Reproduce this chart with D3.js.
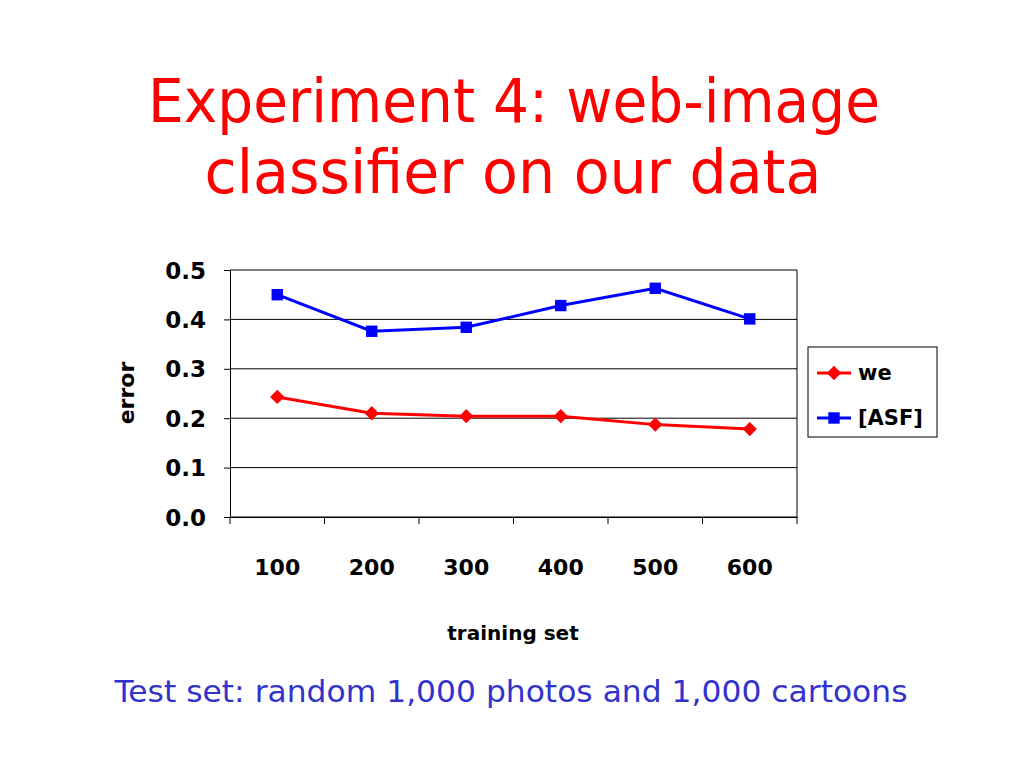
<!DOCTYPE html>
<html><head><meta charset="utf-8">
<script src="https://cdn.jsdelivr.net/npm/d3@7"></script>
<style>body{margin:0;background:#fff}svg{display:block}</style>
</head><body>
<script>
const categories = ["100","200","300","400","500","600"];
const seriesNames = ["we","[ASF]"];
const weValues = [0.243,0.210,0.204,0.204,0.187,0.178];
const asfValues = [0.450,0.376,0.384,0.428,0.463,0.401];
const yTicks = [0,0.1,0.2,0.3,0.4,0.5];
const titleLines = ["Experiment 4: web-image","classifier on our data"];
const subtitle = "Test set: random 1,000 photos and 1,000 cartoons";

const font = "'Comic Sans MS','DejaVu Sans',sans-serif";
const W=1024,H=768;
const svg=d3.select("body").append("svg").attr("width",W).attr("height",H);
const m={l:230,r:797,t:270,b:517};
const x=d3.scaleBand().domain(categories).range([m.l,m.r]);
const y=d3.scaleLinear().domain([0,0.5]).range([m.b,m.t]);

// title
const tl=[{t:titleLines[0],y:122,w:732,c:514},{t:titleLines[1],y:193,w:617,c:513}];
svg.selectAll(".title").data(tl).join("text")
  .attr("x",d=>d.c).attr("y",d=>d.y).attr("text-anchor","middle")
  .attr("font-family",font).attr("font-size",61).attr("fill","#ff0000")
  .attr("textLength",d=>d.w).attr("lengthAdjust","spacingAndGlyphs").text(d=>d.t);

// gridlines
svg.append("g").selectAll("line").data(yTicks).join("line")
  .attr("x1",m.l).attr("x2",m.r).attr("y1",d=>y(d)).attr("y2",d=>y(d))
  .attr("stroke","#000").attr("stroke-width",1);
// right border
svg.append("line").attr("x1",m.r).attr("x2",m.r).attr("y1",m.t).attr("y2",m.b).attr("stroke","#000");

// y axis
const ya=svg.append("g").attr("transform",`translate(${m.l},0)`)
  .call(d3.axisLeft(y).tickValues(yTicks).tickFormat(d3.format(".1f")).tickSize(6).tickPadding(18));
ya.select(".domain").attr("stroke","#000");
ya.selectAll("text").attr("font-family",font).attr("font-size",23).attr("font-weight","bold").attr("fill","#000").attr("dy","0.35em");

// x axis with ticks at band boundaries
const xa=svg.append("g").attr("transform",`translate(0,${m.b})`)
  .call(d3.axisBottom(x).tickSize(0).tickPadding(42));
xa.select(".domain").attr("stroke","#000");
xa.selectAll("text").attr("font-family",font).attr("font-size",22).attr("font-weight","bold").attr("fill","#000");
const bounds=categories.map(c=>x(c)).concat([m.r]);
xa.selectAll(".bt").data(bounds).join("line").attr("class","bt")
  .attr("x1",d=>d).attr("x2",d=>d).attr("y1",0).attr("y2",7).attr("stroke","#000");

// axis titles
svg.append("text").attr("x",513).attr("y",640).attr("text-anchor","middle")
  .attr("font-family",font).attr("font-size",20).attr("font-weight","bold").text("training set");
svg.append("text").attr("transform","translate(134,393) rotate(-90)").attr("text-anchor","middle")
  .attr("font-family",font).attr("font-size",22).attr("font-weight","bold").text("error");

// series
const series=[{name:seriesNames[0],vals:weValues,color:"#ff0000",shape:d3.symbolDiamond2,size:130},
              {name:seriesNames[1],vals:asfValues,color:"#0000ff",shape:d3.symbolSquare,size:130}];
const line=d3.line().x((d,i)=>x(categories[i])+x.bandwidth()/2).y(d=>y(d));
series.forEach(s=>{
  svg.append("path").attr("d",line(s.vals)).attr("fill","none").attr("stroke",s.color).attr("stroke-width",3);
  svg.append("g").selectAll("path").data(s.vals).join("path")
    .attr("transform",(d,i)=>`translate(${x(categories[i])+x.bandwidth()/2},${y(d)})`)
    .attr("d",d3.symbol().type(s.shape).size(s.size)).attr("fill",s.color);
});

// legend
const lg=svg.append("g");
lg.append("rect").attr("x",808).attr("y",347).attr("width",129).attr("height",90).attr("fill","#fff").attr("stroke","#000");
series.forEach((s,i)=>{
  const yy=373+i*45;
  lg.append("line").attr("x1",817).attr("x2",851).attr("y1",yy).attr("y2",yy).attr("stroke",s.color).attr("stroke-width",3);
  lg.append("path").attr("transform",`translate(834,${yy})`).attr("d",d3.symbol().type(s.shape).size(s.size)).attr("fill",s.color);
  lg.append("text").attr("x",858).attr("y",yy).attr("dy","0.35em").attr("font-family",font).attr("font-size",21).attr("font-weight","bold").text(s.name);
});

// subtitle
svg.append("text").attr("x",511).attr("y",702).attr("text-anchor","middle")
  .attr("font-family",font).attr("font-size",30).attr("fill","#3333cc")
  .attr("textLength",793).attr("lengthAdjust","spacingAndGlyphs").text(subtitle);
</script>
</body></html>
